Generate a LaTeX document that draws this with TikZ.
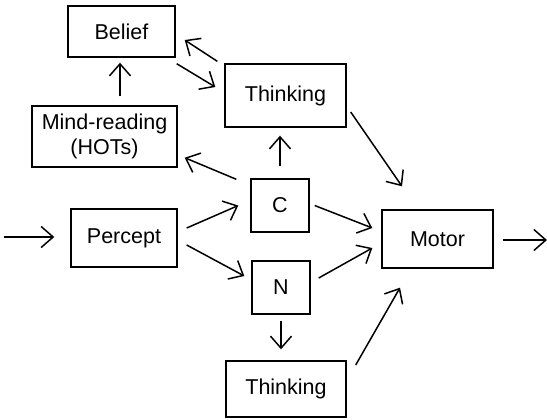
\documentclass[tikz,border=0pt]{standalone}
\usepackage{fontspec}
\setmainfont{Liberation Sans}
\usetikzlibrary{arrows.meta}
\tikzset{
 box/.style
  = {rectangle, draw, inner sep=0pt, align=center, line width=0.7pt,
     font=\fontsize{10.75}{12.5}\selectfont},
 arr/.style
  = {draw, -{Straight Barb[length=6pt,width=10.5pt]}, line width=0.75pt},
}

\begin{document}
\begin{tikzpicture}[x=0.5pt, y=-0.5pt]
\useasboundingbox (0,0) rectangle (547,419);

% Boxes
\node[box, minimum width=53.5pt, minimum height=25.5pt] (belief) at (121.5,31.5) {Belief};
\node[box, minimum width=72.5pt, minimum height=30.5pt] (mind) at (104.5,136.5) {Mind-reading\\(HOTs)};
\node[box, minimum width=60.5pt, minimum height=31.5pt] (think1) at (285.5,95.5) {Thinking};
\node[box, minimum width=29pt, minimum height=26.5pt] (c) at (280,205.5) {C};
\node[box, minimum width=29pt, minimum height=26.5pt] (n) at (281,287.5) {N};
\node[box, minimum width=53pt, minimum height=29pt] (percept) at (124,238) {Percept};
\node[box, minimum width=55.5pt, minimum height=29pt] (motor) at (437.5,239) {Motor};
\node[box, minimum width=60pt, minimum height=28pt] (think2) at (286,389) {Thinking};

% Free ends
\coordinate (in) at (4,237);
\coordinate (out) at (547,240);

% Connectors
\draw[arr] (in) -- ([shift={(-16,-1)}]percept.west);
\draw[arr] ([shift={(9,1)}]motor.east) -- (out);
\draw[arr] ([shift={(15.5,-9)}]mind.north) -- ([shift={(-1.5,5)}]belief.south);
\draw[arr] ([shift={(-7,-2)}]think1.north west) -- ([shift={(9,8.5)}]belief.east);
\draw[arr] ([shift={(1,6)}]belief.south east) -- ([shift={(-9,-8.5)}]think1.west);
\draw[arr] ([shift={(-14,1)}]c.north west) -- ([shift={(7,-10)}]mind.south east);
\draw[arr] ([shift={(0,-12)}]c.north) -- ([shift={(-5.5,8)}]think1.south);
\draw[arr] ([shift={(4,16.5)}]think1.east) -- ([shift={(-35.5,-23)}]motor.north);
\draw[arr] ([shift={(9,-10)}]percept.east) -- ([shift={(-12,0)}]c.west);
\draw[arr] ([shift={(9,7)}]percept.east) -- ([shift={(-7,-11.5)}]n.west);
\draw[arr] ([shift={(5,0)}]c.east) -- ([shift={(-9,-11)}]motor.west);
\draw[arr] ([shift={(8,-9.5)}]n.east) -- ([shift={(-9,9)}]motor.west);
\draw[arr] ([shift={(0,6)}]n.south) -- ([shift={(-5,-11)}]think2.north);
\draw[arr] ([shift={(9,-24)}]think2.east) -- ([shift={(-37.5,19)}]motor.south);

\end{tikzpicture}
\end{document}
